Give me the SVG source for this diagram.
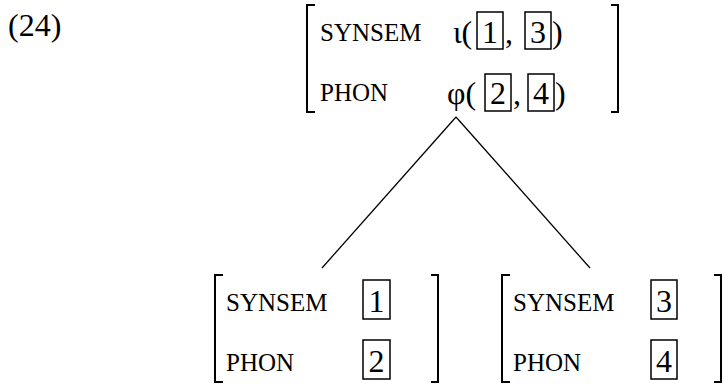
<svg xmlns="http://www.w3.org/2000/svg" width="723" height="385" viewBox="0 0 723 385">
<style>
text{font-family:"Liberation Serif","Times New Roman",serif;fill:#000}
.f{font-size:25px}
.n{font-size:32px}
.d{font-size:32px;text-anchor:middle}
.br{fill:none;stroke:#000;stroke-width:2}
.bx{fill:none;stroke:#000;stroke-width:1.5}
.ln{stroke:#000;stroke-width:1.3;fill:none}
</style>
<rect width="723" height="385" fill="#fff"/>
<text x="8" y="36" class="n">(24)</text>
<g id="mother">
<path class="br" d="M315,5 H307 V112 H315"/>
<path class="br" d="M611,5 H618 V112 H611"/>
<text x="320" y="41" class="f">SYNSEM</text>
<text x="453" y="43" class="n">ι(</text>
<rect class="bx" x="477" y="12" width="26" height="37"/>
<text x="490" y="43" class="d">1</text>
<text x="505" y="43" class="n">,</text>
<rect class="bx" x="525" y="12" width="26" height="37"/>
<text x="538" y="43" class="d">3</text>
<text x="552" y="43" class="n">)</text>
<text x="320" y="101" class="f">PHON</text>
<text x="447" y="104" class="n">φ(</text>
<rect class="bx" x="485" y="74" width="26" height="37"/>
<text x="498" y="104" class="d">2</text>
<text x="513" y="104" class="n">,</text>
<rect class="bx" x="528" y="74" width="26" height="37"/>
<text x="541" y="104" class="d">4</text>
<text x="555" y="104" class="n">)</text>
</g>
<g id="connectors">
<line class="ln" x1="456" y1="117" x2="322" y2="268"/>
<line class="ln" x1="456" y1="117" x2="590" y2="268"/>
</g>
<g id="left">
<path class="br" d="M223,275 H215 V382 H223"/>
<path class="br" d="M431,275 H438 V382 H431"/>
<text x="226" y="311" class="f">SYNSEM</text>
<rect class="bx" x="363" y="280" width="27" height="39"/>
<text x="376.5" y="312" class="d">1</text>
<text x="226" y="371" class="f">PHON</text>
<rect class="bx" x="363" y="340" width="27" height="39"/>
<text x="376.5" y="372" class="d">2</text>
</g>
<g id="right">
<path class="br" d="M510,275 H502 V382 H510"/>
<path class="br" d="M714,275 H721 V382 H714"/>
<text x="513" y="311" class="f">SYNSEM</text>
<rect class="bx" x="651" y="280" width="26" height="39"/>
<text x="664" y="312" class="d">3</text>
<text x="513" y="371" class="f">PHON</text>
<rect class="bx" x="651" y="340" width="26" height="39"/>
<text x="664" y="372" class="d">4</text>
</g>
</svg>
